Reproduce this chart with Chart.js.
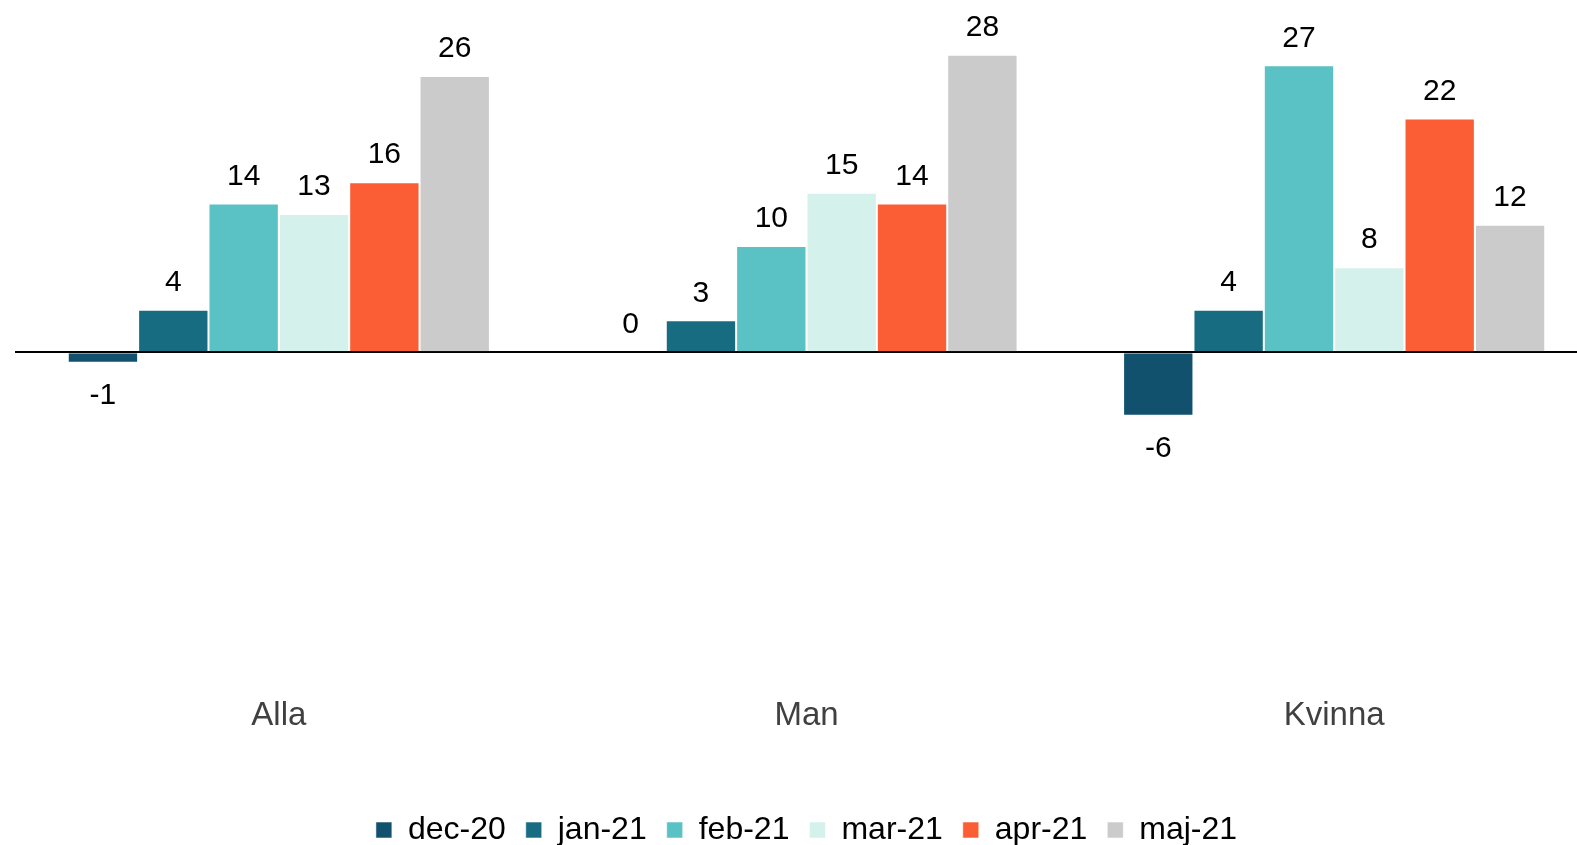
<!DOCTYPE html>
<html>
<head>
<meta charset="utf-8">
<script src="https://cdn.jsdelivr.net/npm/chart.js@4"></script>
<style>
  html, body { margin: 0; padding: 0; background: #fff; overflow: hidden; }
  canvas { display: block; }
</style>
</head>
<body>
<canvas id="myChart" width="1598" height="845" style="width:1598px;height:845px"></canvas>
<script>
var categories = ['Alla', 'Man', 'Kvinna'];
var seriesNames = ['dec-20', 'jan-21', 'feb-21', 'mar-21', 'apr-21', 'maj-21'];
var dec20 = [-1, 0, -6];
var jan21 = [4, 3, 4];
var feb21 = [14, 10, 27];
var mar21 = [13, 15, 8];
var apr21 = [16, 14, 22];
var maj21 = [26, 28, 12];
var colors = ['#12516e', '#186c82', '#5ac1c5', '#d5f1eb', '#fb5e35', '#cbcbcb'];

var seriesValues = [dec20, jan21, feb21, mar21, apr21, maj21];

// simple value labels above / below each bar
var valueLabels = {
    id: 'valueLabels',
    afterDatasetsDraw: function(chart) {
        var ctx = chart.ctx;
        ctx.save();
        ctx.font = '30px "Liberation Sans", Arial, sans-serif';
        ctx.fillStyle = '#000';
        ctx.textAlign = 'center';
        ctx.textBaseline = 'middle';
        chart.data.datasets.forEach(function(ds, i) {
            var meta = chart.getDatasetMeta(i);
            meta.data.forEach(function(bar, j) {
                var v = ds.data[j];
                var y = v < 0 ? bar.y + 33 : bar.y - 27;
                ctx.fillText(String(v), bar.x, y);
            });
        });
        ctx.restore();
    }
};

var ctx = document.getElementById('myChart').getContext('2d');
var chart = new Chart(ctx, {
    type: 'bar',
    data: {
        labels: categories,
        datasets: seriesNames.map(function(name, i) {
            return {
                label: name,
                data: seriesValues[i],
                backgroundColor: colors[i],
                borderColor: 'rgba(255,255,255,0.55)',
                borderWidth: 1,
                categoryPercentage: 0.8,
                barPercentage: 1.0
            };
        })
    },
    options: {
        responsive: false,
        maintainAspectRatio: false,
        devicePixelRatio: 1,
        animation: false,
        // canvas is a bit wider than the page: the plot runs past the right edge like the original
        layout: { padding: { left: 15, right: 0, top: 33.5, bottom: -11 } },
        plugins: {
            tooltip: { enabled: false },
            legend: {
                position: 'bottom',
                labels: {
                    boxWidth: 16,
                    boxHeight: 16,
                    padding: 20,
                    color: '#000',
                    font: { family: '"Liberation Sans", Arial, sans-serif', size: 32 }
                }
            }
        },
        scales: {
            x: {
                grid: { display: false },
                border: { display: false },
                ticks: {
                    color: '#404040',
                    padding: -4,
                    font: { family: '"Liberation Sans", Arial, sans-serif', size: 33 }
                },
                afterFit: function(scale) { scale.height = 102; }
            },
            y: {
                min: -32,
                max: 30,
                ticks: { display: false, stepSize: 2 },
                border: { display: false },
                grid: {
                    drawTicks: false,
                    lineWidth: 2,
                    color: function(c) { return c.tick && c.tick.value === 0 ? '#000' : 'rgba(0,0,0,0)'; }
                }
            }
        }
    },
    plugins: [valueLabels]
});
</script>
</body>
</html>
